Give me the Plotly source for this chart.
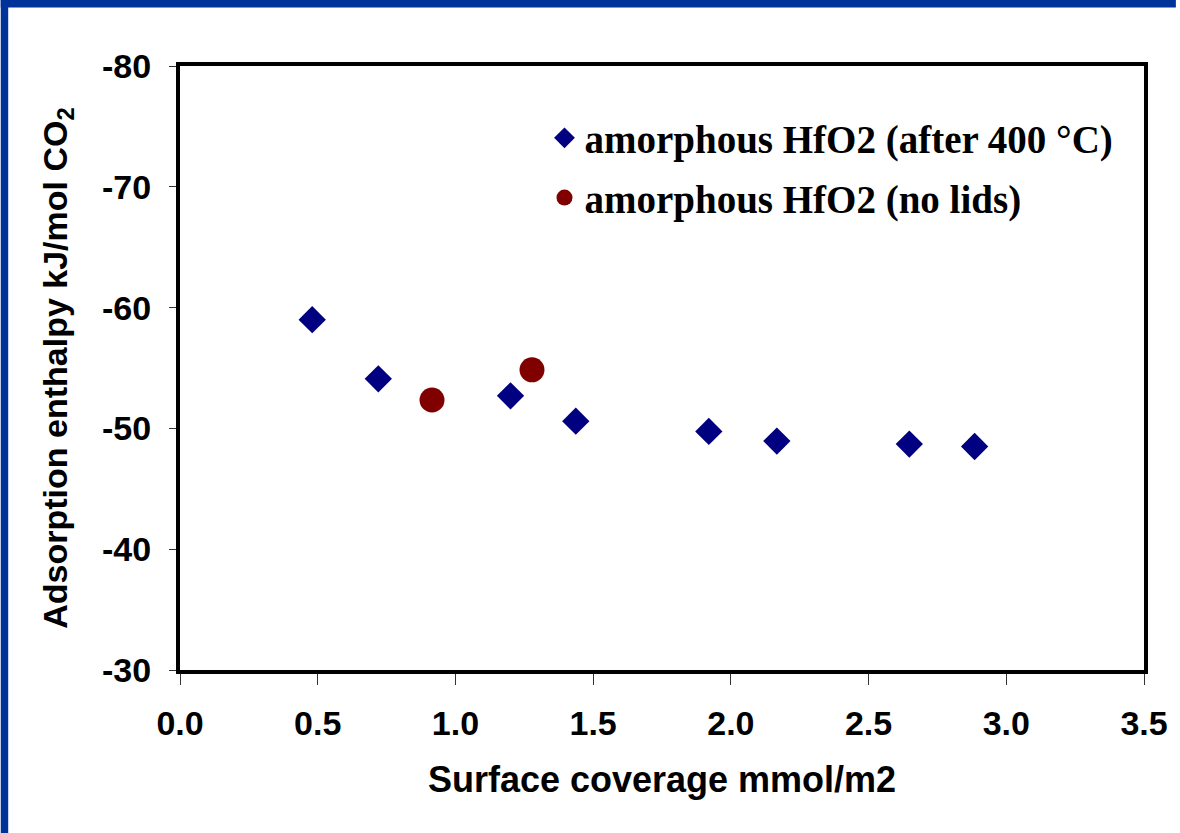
import plotly.graph_objects as go

# Data
coverage_after400 = [0.48, 0.72, 1.20, 1.437, 1.92, 2.167, 2.648, 2.885]
enthalpy_after400 = [-59.0, -54.1, -52.7, -50.6, -49.75, -48.95, -48.7, -48.5]

coverage_nolids = [0.915, 1.278]
enthalpy_nolids = [-52.35, -54.85]

name_after400 = "amorphous HfO2 (after 400 °C)"
name_nolids = "amorphous HfO2 (no lids)"

x_ticks = [0.0, 0.5, 1.0, 1.5, 2.0, 2.5, 3.0, 3.5]
y_ticks = [-80, -70, -60, -50, -40, -30]
y_ticklabels = ["-80", "-70", "-60", "-50", "-40", "-30"]

fig = go.Figure()
fig.add_trace(go.Scatter(
    x=coverage_after400, y=enthalpy_after400, mode="markers", name=name_after400,
    legendgroup="a",
    marker=dict(symbol="diamond", size=21, color="#000080"),
))
fig.add_trace(go.Scatter(
    x=coverage_nolids, y=enthalpy_nolids, mode="markers", name=name_nolids,
    legendgroup="b",
    marker=dict(symbol="circle", size=25, color="#800000"),
))

W, H = 1180, 833
L, R, T, B = 180, 32, 66, 163
pw, ph = W - L - R, H - T - B

frame_color = "#003399"
shapes = [
    dict(type="rect", xref="paper", yref="paper", layer="below",
         x0=-L / pw, x1=(7.5 - L) / pw, y0=-B / ph, y1=1 + T / ph,
         fillcolor=frame_color, line=dict(width=0)),
    dict(type="rect", xref="paper", yref="paper", layer="below",
         x0=-L / pw, x1=1 + R / pw, y0=1 + (T - 7.5) / ph, y1=1 + T / ph,
         fillcolor=frame_color, line=dict(width=0)),
]

tick_font = dict(family="Liberation Sans, Arial, sans-serif", size=34, color="black", weight="bold")
xtitle_font = dict(family="Liberation Sans, Arial, sans-serif", size=36, color="black", weight="bold")
ytitle_font = dict(family="Liberation Sans, Arial, sans-serif", size=34, color="black", weight="bold")

fig.update_layout(
    width=W, height=H,
    margin=dict(l=L, r=R, t=T, b=B, pad=0),
    paper_bgcolor="white", plot_bgcolor="white",
    shapes=shapes,
    showlegend=True,
    legend=dict(
        x=(546 - L) / pw, y=1 - (106 - T) / ph, xanchor="left", yanchor="top",
        bgcolor="rgba(0,0,0,0)", borderwidth=0,
        font=dict(family="Liberation Serif, Times New Roman, serif", size=39, color="black", weight="bold"),
        tracegroupgap=6,
    ),
    xaxis=dict(
        range=[0, 3.5], tickvals=x_ticks, tickformat=".1f",
        showgrid=False, zeroline=False,
        showline=True, linecolor="black", linewidth=4, mirror=True,
        ticks="outside", ticklen=11, tickwidth=1, tickcolor="#333333",
        tickfont=tick_font, ticklabelstandoff=9,
        title=dict(text="Surface coverage mmol/m2", font=xtitle_font, standoff=27),
    ),
    yaxis=dict(
        range=[-30, -80], tickvals=y_ticks, ticktext=y_ticklabels,
        showgrid=False, zeroline=False,
        showline=True, linecolor="black", linewidth=4, mirror=True,
        ticks="outside", ticklen=7, tickwidth=1, tickcolor="#333333",
        tickfont=tick_font, ticklabelstandoff=11,
        title=dict(text="Adsorption enthalpy kJ/mol CO<sub>2</sub>", font=ytitle_font, standoff=25),
    ),
)

fig.write_html("out.html", config={"displayModeBar": False},
               post_script="document.body.style.margin='0px';document.body.style.overflow='hidden';")
